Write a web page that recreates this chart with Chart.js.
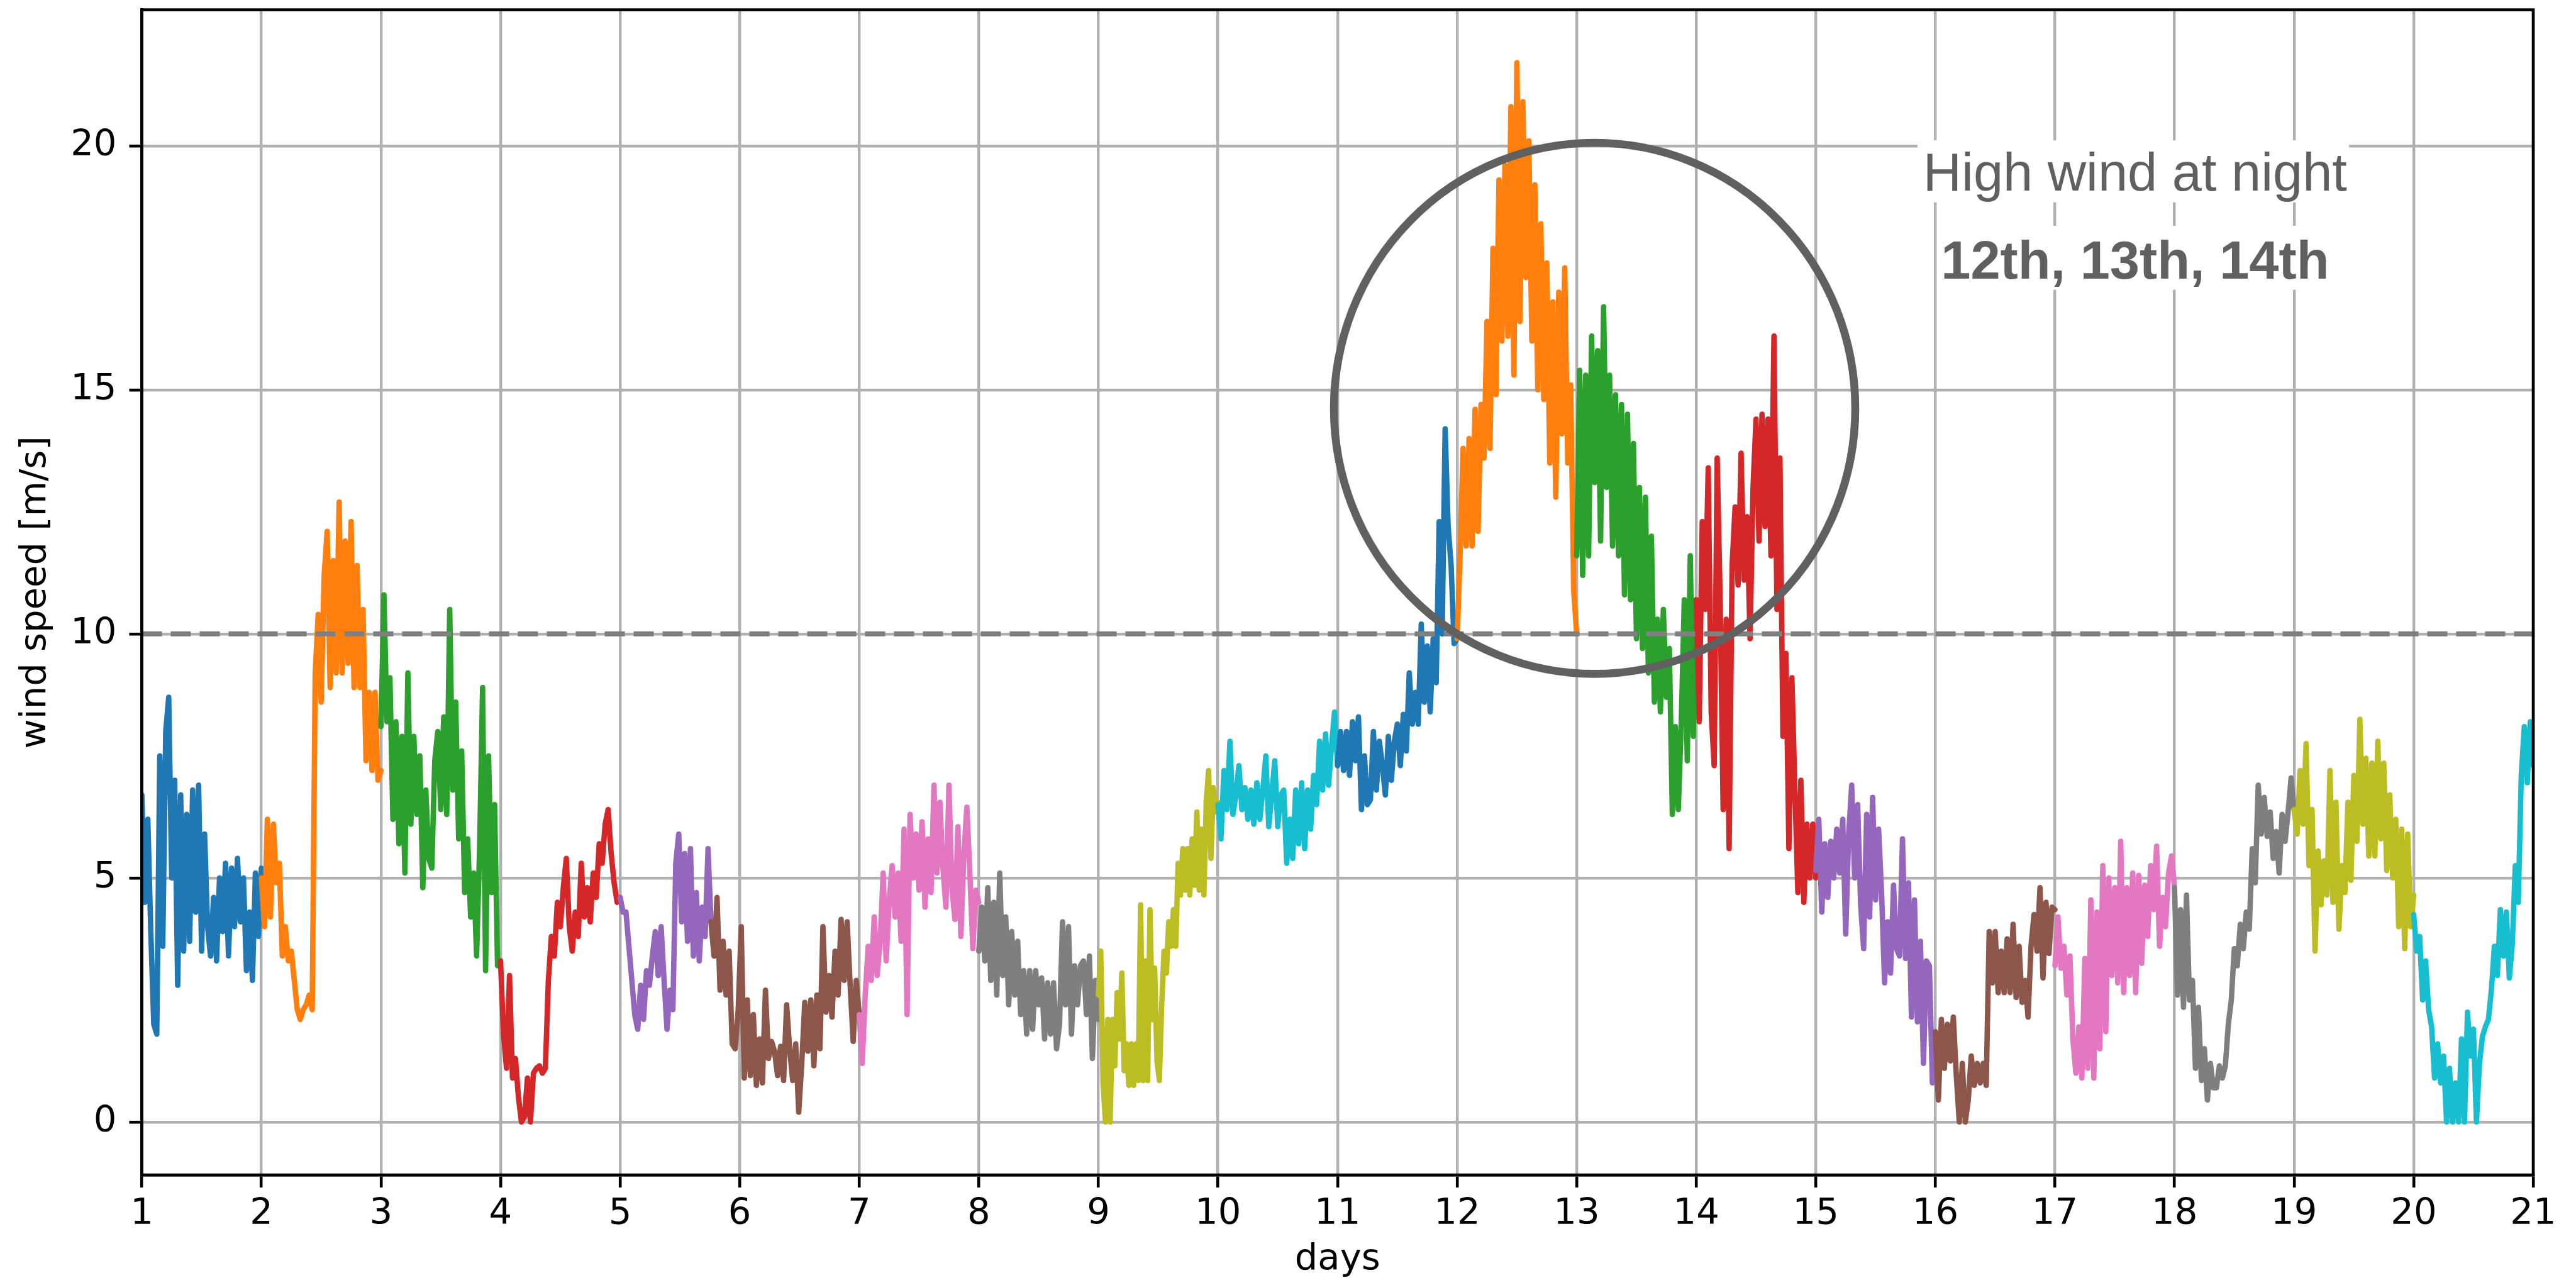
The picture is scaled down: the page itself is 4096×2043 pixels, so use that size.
<!DOCTYPE html>
<html>
<head>
<meta charset="utf-8">
<script src="https://cdn.jsdelivr.net/npm/chart.js@4.4.1/dist/chart.umd.min.js"></script>
<style>
html, body { margin: 0; padding: 0; background: #fff; }
#wrap { width: 4096px; height: 2043px; }
</style>
</head>
<body>
<div id="wrap"><canvas id="myChart"></canvas></div>
<script>
// ticks
var xTicks = [1, 2, 3, 4, 5, 6, 7, 8, 9, 10, 11, 12, 13, 14, 15, 16, 17, 18, 19, 20, 21];
var yTicks = [0, 5, 10, 15, 20];
var threshold = 10;

// start / end (days) of each coloured piece
var segStart = [1, 2, 3, 4, 5, 5.76, 7, 8, 9, 10, 11, 12, 13, 14, 15, 16, 17, 18, 19, 20];
var segEnd   = [2, 3, 4, 5, 5.76, 7, 8, 9, 10, 11, 12, 13, 14, 15, 16, 17, 18, 19, 20, 21];

// wind speed [m/s]
var day1 = [6.7,4.5,6.2,3.9,2.0,1.8,7.5,3.6,8.0,8.7,5.0,7.0,2.8,6.7,3.5,6.3,3.7,6.8,4.3,6.9,3.5,5.9,4.0,3.4,4.6,3.3,5.0,3.9,5.3,3.4,5.2,4.0,5.4,4.1,5.0,3.1,4.3,2.9,5.1,3.8,5.2];
var day2 = [5.0,4.0,6.2,4.2,6.1,4.9,5.3,3.4,4.0,3.3,3.5,2.9,2.3,2.1,2.3,2.4,2.6,2.3,9.2,10.4,8.6,11.2,12.1,8.9,11.5,9.2,12.7,9.2,11.9,9.4,12.3,8.9,11.4,8.9,10.5,7.4,8.8,7.2,8.8,7.0,7.2];
var day3 = [8.1,10.8,8.2,9.1,6.2,8.2,5.7,7.9,5.1,9.2,6.1,7.9,6.3,7.5,4.8,6.8,5.4,5.2,7.4,8.0,6.4,8.3,6.3,10.5,6.8,8.6,5.8,7.6,4.7,5.8,4.2,5.1,3.4,5.6,8.9,3.1,7.5,4.7,6.5,3.2,3.3];
var day4 = [3.3,1.8,1.1,3.0,0.9,1.3,0.5,0.0,0.1,0.9,0.0,1.0,1.1,1.15,1.0,1.1,2.9,3.8,3.4,4.5,4.0,4.8,5.4,4.0,3.5,4.3,3.8,5.3,4.2,4.8,4.1,5.1,4.6,5.7,5.3,6.1,6.4,5.5,4.9,4.5,4.6];
var day5 = [4.6,4.3,4.3,3.6,2.9,2.2,1.9,2.8,2.1,3.1,2.8,3.4,3.9,3.0,4.0,2.9,1.9,2.7,2.3,5.3,5.9,4.1,5.5,3.7,5.6,3.4,4.7,3.3,4.4,3.8,5.6,4.1];
var day6 = [4.1,3.4,4.6,2.7,3.7,2.6,3.5,1.6,1.5,2.3,4.0,0.9,2.5,0.95,2.2,0.75,1.7,0.8,2.7,1.3,1.65,1.45,0.95,1.55,0.85,2.4,1.5,0.85,1.6,0.2,1.2,2.45,1.45,2.5,1.15,2.6,1.5,4.0,2.25,3.0,2.15,3.5,2.6,4.15,2.9,4.1,2.8,1.65,2.9,2.2];
var day7 = [2.2,1.2,2.6,3.6,2.9,4.2,3.0,3.7,5.1,3.3,4.5,5.25,4.2,5.1,3.7,6.0,2.2,6.3,5.0,5.9,4.75,6.15,4.4,5.8,4.7,6.9,5.1,6.55,5.2,4.4,6.9,4.8,4.15,6.05,3.8,5.5,6.45,5.1,3.55,4.75,4.5];
var day8 = [3.5,4.4,3.3,4.8,2.9,4.5,2.6,5.1,3.0,4.2,2.4,3.9,2.6,3.7,2.2,3.1,1.8,3.1,1.9,3.1,2.4,2.95,1.7,2.85,1.8,2.85,1.5,2.0,4.1,2.4,4.0,1.8,3.2,2.4,3.2,3.3,2.2,3.4,1.3,2.9,2.1];
var day9 = [2.6,3.5,0.8,0.0,2.1,0.0,2.1,1.15,2.65,1.7,3.05,1.05,1.6,0.75,1.6,0.75,1.6,0.85,4.45,0.85,3.3,0.85,4.35,2.1,3.15,1.25,0.85,2.4,3.5,3.05,4.1,3.6,4.35,3.6,5.3,4.65,5.6,4.75,5.6,4.65,5.8,4.85,6.35,4.75,6.0,4.65,6.55,7.2,5.4,6.85,6.35,6.55];
var day10 = [6.5,5.8,7.2,6.4,7.8,6.3,6.7,7.3,6.4,6.85,6.2,6.8,6.1,6.95,6.2,6.8,7.5,6.05,6.7,7.4,6.05,6.7,6.8,5.3,6.2,5.4,6.8,5.7,6.95,5.6,6.8,6.0,7.1,6.5,7.8,6.8,7.95,6.9,7.7,8.4,7.3];
var day11 = [7.3,8.0,7.2,8.0,7.1,8.2,7.4,8.3,6.4,7.5,6.5,6.6,8.0,6.8,7.8,7.3,6.7,7.9,7.0,7.8,8.15,7.3,8.35,7.6,9.2,8.15,8.8,8.15,10.2,8.6,9.75,8.4,9.9,9.0,12.3,10.0,14.2,12.2,11.4,9.8,9.9];
var day12 = [9.9,11.6,13.8,11.8,14.0,11.8,14.6,12.1,14.7,13.6,16.4,13.8,17.9,14.9,19.3,16.0,19.6,16.1,20.8,15.3,21.7,16.4,20.9,17.3,20.1,16.0,19.2,15.0,18.4,14.8,17.6,13.5,16.8,12.8,17.0,14.1,17.5,13.5,15.1,10.9,10.0];
var day13 = [11.6,15.4,11.2,15.3,11.6,16.1,13.1,15.8,11.9,16.7,13.0,15.3,11.8,14.9,11.6,14.7,10.8,14.5,10.7,13.9,9.9,13.0,9.7,12.8,9.2,12.0,8.6,10.3,8.4,10.5,8.7,9.7,6.3,8.1,6.4,8.2,10.7,7.4,11.6,7.9,10.7];
var day14 = [10.7,8.2,12.3,10.5,13.4,8.4,7.3,13.6,10.7,6.4,10.3,5.6,11.4,12.6,11.0,13.7,11.1,12.4,9.9,13.0,14.4,11.9,14.5,12.2,14.4,11.6,16.1,10.5,13.6,7.9,9.6,5.6,9.1,6.8,4.7,7.0,4.5,6.1,5.0,6.1,5.0];
var day15 = [5.15,6.2,4.3,5.7,4.6,5.75,5.0,6.0,5.1,6.2,3.85,5.9,6.9,5.0,6.5,4.45,3.55,6.3,4.2,6.65,4.55,6.0,4.7,2.85,4.1,3.05,4.85,3.55,3.4,5.8,3.35,4.9,2.15,4.55,2.05,3.7,1.2,3.3,3.2,0.8,1.8];
var day16 = [1.85,0.45,2.1,1.1,2.0,1.25,2.15,0.95,0.0,1.2,0.0,0.45,1.35,0.75,1.2,0.8,1.2,0.75,3.9,2.85,3.9,2.65,3.5,2.65,3.75,2.65,4.05,2.55,3.6,2.45,2.9,2.15,3.6,4.25,3.5,4.8,2.95,4.5,3.45,4.4,4.35];
var day17 = [3.2,4.2,3.15,3.6,2.6,3.4,1.7,1.0,1.95,0.9,3.35,1.1,4.55,0.9,4.3,1.5,5.25,1.85,5.0,3.0,4.8,2.85,5.75,2.65,4.8,3.0,5.1,2.65,5.05,3.25,4.85,3.8,5.25,4.35,5.65,3.6,4.6,4.0,5.1,5.45,4.8];
var day18 = [4.8,2.6,4.35,2.35,4.65,2.5,2.9,1.1,2.35,0.85,1.5,0.45,1.2,0.7,0.7,1.15,0.9,1.15,2.0,2.5,3.55,3.2,4.05,3.55,4.3,3.95,5.6,4.9,6.9,5.9,6.65,5.85,6.35,5.4,5.95,5.1,6.3,5.75,6.35,7.05,6.4];
var day19 = [6.4,5.9,7.2,6.1,7.75,5.25,6.4,3.5,5.55,4.45,5.35,4.65,7.2,4.5,6.55,3.95,5.25,4.7,6.55,4.95,7.1,5.75,8.25,6.1,7.45,5.45,7.35,5.45,7.8,5.8,7.35,5.15,6.7,5.0,6.2,4.0,6.0,3.55,5.9,4.0,4.65];
var day20 = [4.25,3.5,3.8,2.5,3.3,2.3,1.95,0.9,1.6,0.8,1.35,0.0,1.1,0.0,0.8,0.0,1.7,0.0,2.25,1.35,1.9,0.0,1.2,1.75,1.95,2.1,2.7,3.6,3.0,4.35,3.4,4.3,2.95,3.65,5.25,4.5,7.1,8.1,6.95,8.2,7.3];

var speeds = [day1, day2, day3, day4, day5, day6, day7, day8, day9, day10,
              day11, day12, day13, day14, day15, day16, day17, day18, day19, day20];

var noteLine1 = "High wind at night";
var noteLine2 = "12th, 13th, 14th";

//couleurs matplotlib tab10
var palette = ['#1f77b4', '#ff7f0e', '#2ca02c', '#d62728', '#9467bd', '#8c564b', '#e377c2', '#7f7f7f', '#bcbd22', '#17becf'];

var tickFont = { family: 'DejaVu Sans', size: 57.6 };

//les jeux de données
var datasets = speeds.map(function (vals, k) {
    var a = segStart[k], b = segEnd[k];
    var pts = vals.map(function (v, i) {
        return { x: a + (b - a) * i / (vals.length - 1), y: v };
    });
    return {
        data: pts,
        borderColor: palette[k % 10],
        borderWidth: 8.6,
        borderJoinStyle: 'round',
        borderCapStyle: 'round',
        pointRadius: 0,
        tension: 0,
        fill: false,
        order: speeds.length - k
    };
});
//ligne pointillée à 10 m/s
datasets.push({
    data: [{ x: xTicks[0], y: threshold }, { x: xTicks[xTicks.length - 1], y: threshold }],
    borderColor: '#808080',
    borderWidth: 8,
    borderDash: [32, 14],
    pointRadius: 0,
    fill: false,
    order: -1
});

//cercle, cadre et texte
var annotate = {
    id: 'annotate',
    afterDatasetsDraw: function (chart) {
        var ctx = chart.ctx, area = chart.chartArea;
        var x = chart.scales.x, y = chart.scales.y;
        ctx.save();
        var cx = x.getPixelForValue(13.15), cy = y.getPixelForValue(14.62);
        var rx = x.getPixelForValue(13.15 + 2.18) - cx;
        var ry = cy - y.getPixelForValue(14.62 + 5.44);
        ctx.beginPath();
        ctx.ellipse(cx, cy, rx, ry, 0, 0, 2 * Math.PI);
        ctx.lineWidth = 12.6;
        ctx.strokeStyle = '#606060';
        ctx.stroke();

        ctx.lineWidth = 4.6;
        ctx.strokeStyle = '#000';
        ctx.strokeRect(area.left, area.top, area.right - area.left, area.bottom - area.top);

        //boites blanches
        ctx.fillStyle = '#fff';
        var b1x = x.getPixelForValue(15.85), b1w = x.getPixelForValue(19.46) - b1x;
        var b1y = y.getPixelForValue(20.11), b1h = y.getPixelForValue(18.84) - b1y;
        ctx.fillRect(b1x, b1y, b1w, b1h);
        var b2x = x.getPixelForValue(16.02), b2w = x.getPixelForValue(19.30) - b2x;
        var b2y = y.getPixelForValue(18.36), b2h = y.getPixelForValue(17.05) - b2y;
        ctx.fillRect(b2x, b2y, b2w, b2h);

        ctx.fillStyle = '#606060';
        ctx.textAlign = 'center';
        ctx.textBaseline = 'alphabetic';
        var tx = x.getPixelForValue(17.67);
        ctx.font = '84.8px "Liberation Sans"';
        ctx.fillText(noteLine1, tx, y.getPixelForValue(19.08));
        ctx.font = 'bold 84.8px "Liberation Sans"';
        ctx.fillText(noteLine2, tx, y.getPixelForValue(17.28));
        ctx.restore();
    }
};

var ctx = document.getElementById('myChart').getContext('2d');
var chart = new Chart(ctx, {
    type: 'line',
    data: { datasets: datasets },
    plugins: [annotate],
    options: {
        responsive: true,
        maintainAspectRatio: false,
        animation: false,
        devicePixelRatio: 1,
        layout: { padding: { top: 15.6, right: 68, left: 0, bottom: 0 } },
        plugins: { legend: { display: false }, tooltip: { enabled: false } },
        scales: {
            x: {
                type: 'linear',
                min: 1,
                max: 21,
                afterFit: function (s) { s.height = 175; s.paddingLeft = 0; s.paddingRight = 0; },
                afterBuildTicks: function (s) { s.ticks = xTicks.map(function (v) { return { value: v }; }); },
                ticks: {
                    font: tickFont, color: '#000', padding: 8.3, maxRotation: 0, autoSkip: false,
                    callback: function (v) { return String(v); }
                },
                grid: { color: '#b0b0b0', lineWidth: 4.4, tickColor: '#000', tickWidth: 4.6, tickLength: 20 },
                border: { display: true, color: '#000', width: 4.6 },
                title: { display: true, text: 'days', font: tickFont, color: '#000', padding: { top: 0, bottom: 5 } }
            },
            y: {
                type: 'linear',
                min: -1.085,
                max: 22.785,
                afterFit: function (s) { s.width = 225.5; s.paddingTop = 0; s.paddingBottom = 0; },
                afterBuildTicks: function (s) { s.ticks = yTicks.map(function (v) { return { value: v }; }); },
                ticks: {
                    font: tickFont, color: '#000', padding: 20, autoSkip: false,
                    callback: function (v) { return String(v); }
                },
                grid: { color: '#b0b0b0', lineWidth: 4.4, tickColor: '#000', tickWidth: 4.6, tickLength: 20 },
                border: { display: true, color: '#000', width: 4.6 },
                title: { display: true, text: 'wind speed [m/s]', font: tickFont, color: '#000', padding: { top: 22, bottom: 0 } }
            }
        }
    }
});
</script>
</body>
</html>
